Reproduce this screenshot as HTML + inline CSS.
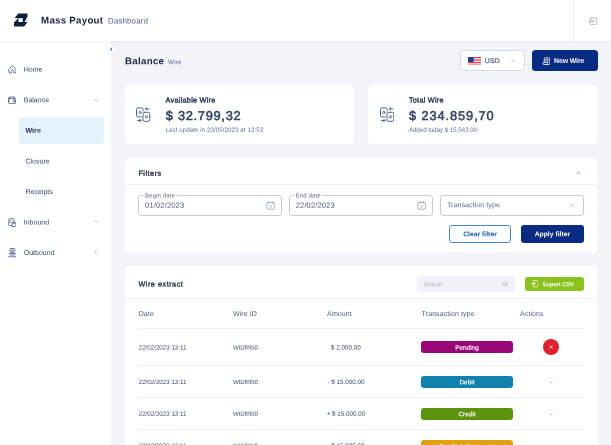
<!DOCTYPE html>
<html lang="en">
<head>
<meta charset="utf-8">
<title>Mass Payout Dashboard</title>
<style>
*{box-sizing:border-box;margin:0;padding:0}
html,body{width:611px;height:445px;overflow:hidden;background:#f3f4f8}
body{font-family:"Liberation Sans",sans-serif;color:#24324f;position:relative;font-size:7px;line-height:1}
#root{position:absolute;left:0;top:0;width:611px;height:445px;will-change:transform}
.abs{position:absolute}
.t{position:absolute;white-space:nowrap;line-height:1}
#hdr{left:0;top:0;width:611px;height:40.6px;background:#fff;box-shadow:0 .5px 2px rgba(30,45,80,.08);z-index:3}
#side{left:0;top:40px;width:111px;height:405px;background:#fff;z-index:2}
#nav{z-index:3;left:0;top:0}
#collapse{left:106.1px;top:44.5px;width:9.8px;height:9.8px;border-radius:50%;background:#fff;box-shadow:0 0 1.5px rgba(30,45,80,.2);z-index:4}
.card{background:#fff;border-radius:4px}
.hline{height:1px;background:#edf0f5}
.inp{border:1px solid #c5cddc;border-radius:3px;background:#fff}
.brand{font-weight:700;color:#17223f}
.brand2{color:#4d628a}
.nav{color:#3b4a6a}
.navb{font-weight:700;color:#1b2647}
.h1{font-weight:700;color:#1b2647}
.mut{color:#5b6d8e}
.clab{color:#22304e;-webkit-text-stroke:.35px #22304e}
.cval{color:#2f4166;-webkit-text-stroke:.5px #2f4166}
.sec{color:#26344f;-webkit-text-stroke:.35px #26344f}
.ilab{color:#5b6d8e;background:#fff}
.ival{color:#4a5b7c}
.btxt{font-weight:700;color:#fff}
.th{color:#4d628a}
.td{color:#3a4a6b}
.bt{color:#fff;-webkit-text-stroke:.15px #fff}
</style>
</head>
<body>
<div id="root">
<div id="hdr" class="abs">
<svg class="abs" style="left:13.5px;top:13px" width="14" height="14" viewBox="0 0 14 14"><path fill-rule="evenodd" fill="#0f1f3e" d="M4.3 0.4H13.5V3.4L10.5 8.95H13.5L10.2 13.6H0V9.4L4.3 5.35L0.6 4.9ZM4.4 5.2H8.7V9.1H4.4Z"/></svg>
<div class="abs" style="left:573px;top:0;width:1px;height:41px;background:#eef0f5"></div>
<svg class="abs" style="left:588.7px;top:16.8px" width="8.5" height="8.5" viewBox="0 0 17 17" fill="none" stroke="#8a97b1" stroke-width="1.3" stroke-linecap="round" stroke-linejoin="round"><rect x="2.5" y="1.5" width="13" height="14" rx="3"/><path d="M.8 8.5H10M7.6 6L10 8.5L7.600 11"/></svg>
<div class="t brand" style="left:41px;top:15px;font-size:9.7px;transform:translate(0.1px,0.5px) rotate(.05deg);letter-spacing:0.27px;">Mass Payout</div>
<div class="t brand2" style="left:108px;top:17px;font-size:8px;transform:translate(0.1px,0.6px) rotate(.05deg);letter-spacing:0.08px;">Dashboard</div>
</div>
<div id="side" class="abs"></div>
<div id="collapse" class="abs"><svg class="abs" style="left:3px;top:2.700px" width="3.600" height="4.400" viewBox="0 0 7.200 8.800"><path d="M5.500 1L1.800 4.400L5.500 7.800Z" fill="#4d77c8" stroke="#4d77c8" stroke-width=".6" stroke-linejoin="round"/></svg></div>
<div id="nav" class="abs">
<div class="abs" style="left:19px;top:117px;width:85.3px;height:26.5px;background:#e3f2fb;border-radius:3px"></div>
<svg class="abs" style="left:7.800px;top:65px" width="8.700" height="8.800" viewBox="0 0 17.400 17.600" fill="none" stroke="#4b5d84" stroke-width="1.650" stroke-linejoin="round" stroke-linecap="round"><path d="M6 16H4A2.500 2.500 0 0 1 1.500 13.500V8.200L8.700 1.500L15.900 8.200V13.500A2.500 2.500 0 0 1 13.400 16H11.400V12.500A2.700 2.700 0 0 0 6 12.500Z"/></svg>
<svg class="abs" style="left:7.600px;top:95.900px" width="8.600" height="8.300" viewBox="0 0 17.600 17" fill="none" stroke="#4b5d84" stroke-width="1.650" stroke-linejoin="round" stroke-linecap="round"><path d="M1.500 4A2 2 0 0 1 3.500 2H13.500V5"/><rect x="1.500" y="5" width="14.500" height="10.500" rx="2"/><path d="M1.500 4V13"/><rect x="11" y="8.500" width="5" height="3.600" rx="1"/></svg>
<svg class="abs" style="left:7.500px;top:217.500px" width="8.800" height="9.200" viewBox="0 0 17.600 18.400" fill="none" stroke="#4b5d84" stroke-width="1.650" stroke-linejoin="round" stroke-linecap="round"><path d="M9 15.500H3A1.500 1.500 0 0 1 1.500 14V3A1.500 1.500 0 0 1 3 1.500H10.500A1.500 1.500 0 0 1 12 3V7"/><path d="M4.500 5.500H6.500M4.500 9H6"/><rect x="8.500" y="9.500" width="7.500" height="7.500" rx="1.500"/><path d="M10.500 11V8.800A1.800 1.800 0 0 1 14 8.800V11" stroke-width="1.200"/></svg>
<svg class="abs" style="left:7.500px;top:248.200px" width="8.800" height="9.400" viewBox="0 0 17.600 18.800" fill="none" stroke="#4b5d84" stroke-width="1.650" stroke-linejoin="round" stroke-linecap="round"><rect x="4" y="1" width="9.600" height="7" rx="1.500"/><path d="M6.500 4.500H11"/><path d="M8.800 8V11M2.500 11H15M4 14H13.500M1.500 17.500H16"/></svg>
<div class="t nav" style="left:23px;top:65px;font-size:7px;transform:translate(0.7px,0.7px) rotate(.05deg);letter-spacing:0.02px;">Home</div>
<div class="t nav" style="left:23px;top:96px;font-size:7px;transform:translate(0.7px,0.25px) rotate(.05deg);letter-spacing:0.02px;">Balance</div>
<div class="t nav" style="left:23px;top:218px;font-size:7px;transform:translate(0.7px,0.45px) rotate(.05deg);letter-spacing:0.02px;">Inbound</div>
<div class="t nav" style="left:23px;top:249px;font-size:7px;transform:translate(0.7px,0.05px) rotate(.05deg);letter-spacing:0.02px;">Outbound</div>
<div class="t navb" style="left:25px;top:126px;font-size:7px;transform:translate(0.4px,0.8px) rotate(.05deg);letter-spacing:0.1px;">Wire</div>
<div class="t nav" style="left:25px;top:157px;font-size:7px;transform:translate(0.4px,0.4px) rotate(.05deg);letter-spacing:0.02px;">Closure</div>
<div class="t nav" style="left:25px;top:187px;font-size:7px;transform:translate(0.4px,0.9px) rotate(.05deg);letter-spacing:0.02px;">Receipts</div>
<svg class="abs" style="left:93.6px;top:98.7px" width="5" height="3.5" viewBox="0 0 10 7" fill="none" stroke="#9aa6bd" stroke-width="1.4" stroke-linecap="round" stroke-linejoin="round"><path d="M1.5 1.5L5 5L8.5 1.5"/></svg>
<svg class="abs" style="left:93.6px;top:220.4px" width="5" height="3.5" viewBox="0 0 10 7" fill="none" stroke="#9aa6bd" stroke-width="1.4" stroke-linecap="round" stroke-linejoin="round"><path d="M1.5 1.5L5 5L8.5 1.5"/></svg>
<svg class="abs" style="left:94.300px;top:250.400px" width="3.500" height="5" viewBox="0 0 7 10" fill="none" stroke="#8a97b1" stroke-width="1.400" stroke-linecap="round" stroke-linejoin="round"><path d="M5 1.500L1.500 5L5 8.500"/></svg>
</div>
<div class="t h1" style="left:125px;top:56px;font-size:9.7px;transform:translate(0.1px,0.3px) rotate(.05deg);letter-spacing:0.28px;">Balance</div>
<div class="t mut" style="left:168px;top:59px;font-size:6.4px;transform:translate(0.1px,0.35px) rotate(.05deg);letter-spacing:0.12px;">Wire</div>
<div class="abs" style="left:460.4px;top:50.2px;width:64.4px;height:20.7px;background:#fff;border:1px solid #d3dae8;border-radius:3.500px"></div>
<svg class="abs" style="left:467.500px;top:56.500px" width="13.500" height="8.800" viewBox="0 0 27 17.600"><rect width="27" height="17.600" rx="1.500" fill="#fff"/><g fill="#e4354a"><rect width="27" height="2.500" rx="1"/><rect y="5" width="27" height="2.500"/><rect y="10" width="27" height="2.600"/><rect y="15.100" width="27" height="2.500" rx="1"/></g><rect width="11.500" height="9.800" rx="1" fill="#26408f"/></svg>
<div class="t ival" style="left:484px;top:58px;font-size:6.9px;transform:translate(0.8px,0.05px) rotate(.05deg);letter-spacing:0.15px;-webkit-text-stroke:.2px #4a5b7c;">USD</div>
<svg class="abs" style="left:510.6px;top:59.2px" width="5" height="3.5" viewBox="0 0 10 7" fill="none" stroke="#9aa6bd" stroke-width="1.4" stroke-linecap="round" stroke-linejoin="round"><path d="M1.5 1.5L5 5L8.5 1.5"/></svg>
<div class="abs" style="left:531.5px;top:50.4px;width:66px;height:20.5px;background:#082c84;border-radius:3.500px"></div>
<svg class="abs" style="left:541.800px;top:56.800px" width="8.500" height="8.200" viewBox="0 0 17 16.400" fill="none" stroke="#fff" stroke-width="1.600" stroke-linecap="round" stroke-linejoin="round"><path d="M4.500 11.500V3.500A2 2 0 0 1 6.500 1.500H13.500A2 2 0 0 1 15.500 3.500V13A2 2 0 0 1 13.500 15H4A2.200 2.200 0 0 1 4 10.600H11V13A2 2 0 0 0 13 15"/><path d="M7.500 5H12.500M7.500 8H12.500"/></svg>
<div class="t btxt" style="left:554px;top:58px;font-size:6.9px;transform:translate(0.1px,0.05px) rotate(.05deg);letter-spacing:-0.1px;">New Wire</div>
<div class="abs card" style="left:124.7px;top:85px;width:229.3px;height:58.7px;"></div>
<div class="abs card" style="left:368px;top:85px;width:229.4px;height:58.7px;"></div>
<svg class="abs" style="left:136.1px;top:106.700px" width="14.500" height="15.500" viewBox="0 0 14.500 15.500" fill="none" stroke="#4d628a" stroke-width="1" stroke-linecap="round" stroke-linejoin="round"><path d="M5.400 9.900H2A1.500 1.500 0 0 1 .5 8.400V2.400A1.500 1.500 0 0 1 2 .9H5.700A1.500 1.500 0 0 1 7.200 2.400V3.900"/><circle cx="3.850" cy="5.450" r="1.200" stroke-width=".85"/><rect x="7" y="5.300" width="6.800" height="9" rx="1.500"/><circle cx="10.400" cy="9.800" r="1.200" stroke-width=".85"/><path d="M9.400 1.900H13M10.700 .6L9.400 1.900L10.700 3.200"/><path d="M1.400 13.400H5M3.700 12.100L5 13.400L3.700 14.700"/></svg>
<svg class="abs" style="left:379.6px;top:106.700px" width="14.500" height="15.500" viewBox="0 0 14.500 15.500" fill="none" stroke="#4d628a" stroke-width="1" stroke-linecap="round" stroke-linejoin="round"><path d="M5.400 9.900H2A1.500 1.500 0 0 1 .5 8.400V2.400A1.500 1.500 0 0 1 2 .9H5.700A1.500 1.500 0 0 1 7.200 2.400V3.900"/><circle cx="3.850" cy="5.450" r="1.200" stroke-width=".85"/><rect x="7" y="5.300" width="6.800" height="9" rx="1.500"/><circle cx="10.400" cy="9.800" r="1.200" stroke-width=".85"/><path d="M9.400 1.900H13M10.700 .6L9.400 1.900L10.700 3.200"/><path d="M1.400 13.400H5M3.700 12.100L5 13.400L3.700 14.700"/></svg>
<div class="t clab" style="left:165px;top:96px;font-size:7.3px;transform:translate(0.6px,0.6px) rotate(.05deg);letter-spacing:0.25px;">Available Wire</div>
<div class="t cval" style="left:165px;top:110px;font-size:12.8px;transform:translate(0.8px,0px) rotate(.05deg);letter-spacing:0.72px;">$ 32.799,32</div>
<div class="t mut" style="left:165px;top:126px;font-size:6.1px;transform:translate(0.6px,0.8px) rotate(.05deg);letter-spacing:0.1px;">Last update in 23/05/2023 at 12:53</div>
<div class="t clab" style="left:408px;top:96px;font-size:7.3px;transform:translate(0.9px,0.6px) rotate(.05deg);letter-spacing:0.25px;">Total Wire</div>
<div class="t cval" style="left:409px;top:110px;font-size:12.8px;transform:translate(0.1px,0px) rotate(.05deg);letter-spacing:0.9px;">$ 234.859,70</div>
<div class="t mut" style="left:408px;top:126px;font-size:6.1px;transform:translate(0.9px,0.8px) rotate(.05deg);">Added today $ 15.563,00</div>
<div class="abs card" style="left:124.7px;top:157.7px;width:472.7px;height:95px;"></div>
<div class="t sec" style="left:138px;top:169px;font-size:7.3px;transform:translate(0.4px,0.65px) rotate(.05deg);letter-spacing:0.5px;">Filters</div>
<svg class="abs" style="left:576px;top:171px" width="5" height="3.500" viewBox="0 0 10 7" fill="none" stroke="#4b78cc" stroke-width="1.400" stroke-linecap="round" stroke-linejoin="round"><path d="M1.500 5.500L5 2L8.500 5.500"/></svg>
<div class="abs hline" style="left:124.7px;top:183.7px;width:472.7px;height:1px;"></div>
<div class="abs inp" style="left:138.2px;top:195.2px;width:143.9px;height:20.4px;"></div>
<div class="t ilab" style="left:143px;top:192px;font-size:6.1px;transform:translate(0.6px,0.4px) rotate(.05deg);letter-spacing:0.08px;padding:0 1.5px;">Begin date</div>
<div class="t ival" style="left:145px;top:201px;font-size:7.6px;transform:translate(0.1px,0.85px) rotate(.05deg);letter-spacing:0.12px;">01/02/2023</div>
<svg class="abs" style="left:266px;top:201.200px" width="9.200" height="9" viewBox="0 0 18.400 18" fill="none" stroke="#7d8cab" stroke-width="1.300" stroke-linecap="round" stroke-linejoin="round"><rect x="1.500" y="3" width="15.400" height="13.500" rx="3"/><path d="M5.800 1.200V4M12.600 1.200V4"/><path d="M7.700 9V12.500M10.700 9V12.500" stroke-width="1"/></svg>
<div class="abs inp" style="left:289.4px;top:195.2px;width:143.5px;height:20.4px;"></div>
<div class="t ilab" style="left:294px;top:192px;font-size:6.1px;transform:translate(0.2px,0.4px) rotate(.05deg);letter-spacing:0.08px;padding:0 1.5px;">End date</div>
<div class="t ival" style="left:295px;top:201px;font-size:7.6px;transform:translate(0.7px,0.85px) rotate(.05deg);letter-spacing:0.12px;">22/02/2023</div>
<svg class="abs" style="left:416.5px;top:201.200px" width="9.200" height="9" viewBox="0 0 18.400 18" fill="none" stroke="#7d8cab" stroke-width="1.300" stroke-linecap="round" stroke-linejoin="round"><rect x="1.500" y="3" width="15.400" height="13.500" rx="3"/><path d="M5.800 1.200V4M12.600 1.200V4"/><path d="M7.700 9V12.500M10.700 9V12.500" stroke-width="1"/></svg>
<div class="abs inp" style="left:440px;top:195.2px;width:143.8px;height:20.4px;"></div>
<div class="t mut" style="left:446px;top:202px;font-size:7.1px;transform:translate(0.9px,0.3px) rotate(.05deg);letter-spacing:0.05px;">Transaction type</div>
<svg class="abs" style="left:569.6px;top:203.8px" width="5" height="3.5" viewBox="0 0 10 7" fill="none" stroke="#9aa6bd" stroke-width="1.4" stroke-linecap="round" stroke-linejoin="round"><path d="M1.5 1.5L5 5L8.5 1.5"/></svg>
<div class="abs" style="left:449px;top:225.4px;width:62px;height:17.3px;border:1px solid #4a84da;border-radius:3px;background:#fff"></div>
<div class="t " style="left:449px;top:231px;font-size:6.8px;transform:translate(0px,0.2px) rotate(.05deg);width:62px;text-align:center;font-weight:700;color:#1a53ba;">Clear filter</div>
<div class="abs" style="left:521px;top:225.4px;width:62.8px;height:17.3px;border-radius:3px;background:#082c84"></div>
<div class="t btxt" style="left:521px;top:231px;font-size:6.8px;transform:translate(0px,0.2px) rotate(.05deg);width:62.8px;text-align:center;">Apply filter</div>
<div class="abs card" style="left:124.7px;top:266.4px;width:472.7px;height:190px;"></div>
<div class="t sec" style="left:138px;top:280px;font-size:7.3px;transform:translate(0.4px,0.4px) rotate(.05deg);letter-spacing:0.5px;">Wire extract</div>
<div class="abs" style="left:417.3px;top:276.4px;width:97.5px;height:15.5px;border-radius:3px;background:#f0f2f7"></div>
<div class="t " style="left:423px;top:282px;font-size:5.9px;transform:translate(0.6px,0.2px) rotate(.05deg);color:#a3afc6;">Search</div>
<svg class="abs" style="left:501.800px;top:281.300px" width="6" height="6" viewBox="0 0 12 12" fill="none" stroke="#a3afc6" stroke-width="1.300" stroke-linecap="round"><circle cx="5.300" cy="5.300" r="3.900"/><path d="M8.300 8.300L10.500 10.500"/></svg>
<div class="abs" style="left:524.9px;top:277.2px;width:58.9px;height:13.6px;border-radius:3px;background:#8cc21d"></div>
<svg class="abs" style="left:530.800px;top:280.400px" width="7.500" height="7.400" viewBox="0 0 15 14.800" fill="none" stroke="#fff" stroke-width="1.300" stroke-linecap="round" stroke-linejoin="round"><path d="M4 3.500V3A2 2 0 0 1 6 1H12A2 2 0 0 1 14 3V11.800A2 2 0 0 1 12 13.800H6A2 2 0 0 1 4 11.800V11.300"/><circle cx="5.200" cy="7.400" r="2.600"/><circle cx="5.200" cy="7.400" r=".6" fill="#fff"/></svg>
<div class="t btxt" style="left:542px;top:282px;font-size:5.9px;transform:translate(0.9px,0.3px) rotate(.05deg);letter-spacing:-0.15px;">Export CSV</div>
<div class="abs hline" style="left:124.7px;top:297.9px;width:472.7px;height:1px;"></div>
<div class="t th" style="left:138px;top:311px;font-size:7.1px;transform:translate(0.7px,0.05px) rotate(.05deg);letter-spacing:0.05px;">Date</div>
<div class="t th" style="left:232px;top:311px;font-size:7.1px;transform:translate(0.9px,0.05px) rotate(.05deg);letter-spacing:0.05px;">Wire ID</div>
<div class="t th" style="left:327px;top:311px;font-size:7.1px;transform:translate(0.1px,0.05px) rotate(.05deg);letter-spacing:0.05px;">Amount</div>
<div class="t th" style="left:421px;top:311px;font-size:7.1px;transform:translate(0.6px,0.05px) rotate(.05deg);letter-spacing:0.05px;">Transaction type</div>
<div class="t th" style="left:520px;top:311px;font-size:7.1px;transform:translate(0.1px,0.05px) rotate(.05deg);letter-spacing:0.05px;">Actions</div>
<div class="abs hline" style="left:138.4px;top:328.1px;width:445.4px;height:1px;"></div>
<div class="abs hline" style="left:138.4px;top:365px;width:445.4px;height:1px;"></div>
<div class="abs hline" style="left:138.4px;top:397px;width:445.4px;height:1px;"></div>
<div class="abs hline" style="left:138.4px;top:429px;width:445.4px;height:1px;"></div>
<div class="t td" style="left:138px;top:344px;font-size:6.2px;transform:translate(0.7px,0.5px) rotate(.05deg);">22/02/2023 13:11</div>
<div class="t td" style="left:232px;top:344px;font-size:6px;transform:translate(0.9px,0.5px) rotate(.05deg);">WID8950</div>
<div class="t td" style="left:316px;top:344px;font-size:6.3px;transform:translate(0px,0.5px) rotate(.05deg);width:60px;text-align:center;">$ 2.000,00</div>
<div class="abs" style="left:421.1px;top:341.3px;width:91.8px;height:12.1px;background:#9a0578;border-radius:3px"></div>
<div class="t bt" style="left:421px;top:344px;font-size:6.3px;transform:translate(0.1px,0.7px) rotate(.05deg);letter-spacing:0.05px;width:91.8px;text-align:center;">Pending</div>
<div class="abs" style="left:543.4px;top:338.9px;width:16px;height:16px;border-radius:50%;background:#e21f2b"></div>
<svg class="abs" style="left:549.400px;top:344.900px" width="4" height="4" viewBox="0 0 8 8" stroke="#fff" stroke-width="1.600" stroke-linecap="round"><path d="M1.500 1.500L6.500 6.500M6.500 1.500L1.500 6.500"/></svg>
<div class="t td" style="left:138px;top:378px;font-size:6.2px;transform:translate(0.7px,0.9px) rotate(.05deg);">22/02/2023 13:11</div>
<div class="t td" style="left:232px;top:378px;font-size:6px;transform:translate(0.9px,0.9px) rotate(.05deg);">WID8950</div>
<div class="t td" style="left:316px;top:378px;font-size:6.3px;transform:translate(0px,0.9px) rotate(.05deg);width:60px;text-align:center;">- $ 15.000,00</div>
<div class="abs" style="left:421.1px;top:375.9px;width:91.8px;height:12.1px;background:#0f83ac;border-radius:3px"></div>
<div class="t bt" style="left:421px;top:379px;font-size:6.3px;transform:translate(0.1px,0.3px) rotate(.05deg);letter-spacing:0.05px;width:91.8px;text-align:center;">Debit</div>
<div class="t mut" style="left:550px;top:379px;font-size:6.6px;transform:translate(0.4px,0.2px) rotate(.05deg);-webkit-text-stroke:.2px #5b6d8e;">-</div>
<div class="t td" style="left:138px;top:410px;font-size:6.2px;transform:translate(0.7px,0.8px) rotate(.05deg);">22/02/2023 13:11</div>
<div class="t td" style="left:232px;top:410px;font-size:6px;transform:translate(0.9px,0.8px) rotate(.05deg);">WID8950</div>
<div class="t td" style="left:316px;top:410px;font-size:6.3px;transform:translate(0px,0.8px) rotate(.05deg);width:60px;text-align:center;">+ $ 15.000,00</div>
<div class="abs" style="left:421.1px;top:407.9px;width:91.8px;height:12.1px;background:#5b930f;border-radius:3px"></div>
<div class="t bt" style="left:421px;top:411px;font-size:6.3px;transform:translate(0.1px,0.3px) rotate(.05deg);letter-spacing:0.05px;width:91.8px;text-align:center;">Credit</div>
<div class="t mut" style="left:550px;top:411px;font-size:6.6px;transform:translate(0.4px,0.1px) rotate(.05deg);-webkit-text-stroke:.2px #5b6d8e;">-</div>
<div class="t td" style="left:138px;top:442px;font-size:6.2px;transform:translate(0.7px,0.8px) rotate(.05deg);">22/02/2023 13:11</div>
<div class="t td" style="left:232px;top:442px;font-size:6px;transform:translate(0.9px,0.8px) rotate(.05deg);">WID8950</div>
<div class="t td" style="left:316px;top:442px;font-size:6.3px;transform:translate(0px,0.8px) rotate(.05deg);width:60px;text-align:center;">- $ 15.000,00</div>
<div class="abs" style="left:421.1px;top:440px;width:91.8px;height:12.1px;background:#e0a011;border-radius:3px"></div>
<div class="t bt" style="left:421px;top:443px;font-size:6.3px;transform:translate(0.1px,0.4px) rotate(.05deg);letter-spacing:0.4px;width:91.8px;text-align:center;">Credit Adjustment</div>
<div class="t mut" style="left:550px;top:443px;font-size:6.6px;transform:translate(0.4px,0.1px) rotate(.05deg);-webkit-text-stroke:.2px #5b6d8e;">-</div>
</div>
</body>
</html>
